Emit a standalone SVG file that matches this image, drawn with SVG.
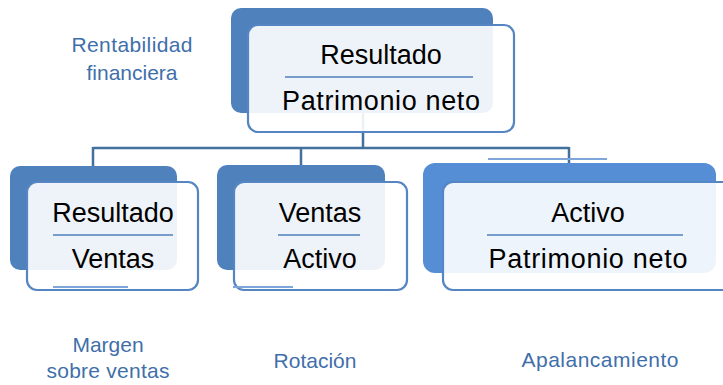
<svg xmlns="http://www.w3.org/2000/svg" width="723" height="385" viewBox="0 0 723 385">
<defs>
<style>
.back{fill:#4F81BD;}
.backR{fill:#558ED5;}
.front{fill:#FFFFFF;fill-opacity:0.9;stroke:#5585C2;stroke-width:2.2;}
.div{stroke:#4F81BD;stroke-width:1.5;}
.art{stroke:#7FA6D8;stroke-width:2;}
.t{font-family:"Liberation Sans",Arial,sans-serif;font-size:27px;fill:#000;text-anchor:middle;}
.lbl{font-family:"Liberation Sans",Arial,sans-serif;font-size:21px;fill:#3F6FAA;text-anchor:middle;}
.conn{fill:none;stroke:#41719C;stroke-width:2.5;}
</style>
</defs>
<rect width="723" height="385" fill="#FFFFFF"/>
<g id="connectors">
<path class="conn" d="M363,113 V148 M93,148 H569 M93,147 V166 M301,148 V165 M569,147 V163"/>
</g>
<g id="node-top">
<rect class="back" x="231" y="8" width="262" height="105" rx="10"/>
<rect class="front" x="248" y="25" width="266" height="107" rx="10"/>
<text class="t" x="381" y="64">Resultado</text>
<line class="div" x1="285" y1="77" x2="473" y2="77"/>
<text class="t" x="381" y="110" textLength="198">Patrimonio neto</text>
</g>
<g id="node-left">
<rect class="back" x="10" y="166" width="167" height="104" rx="10"/>
<rect class="front" x="27" y="182" width="171" height="108" rx="10"/>
<text class="t" x="113" y="222">Resultado</text>
<line class="div" x1="53" y1="235" x2="173" y2="235"/>
<text class="t" x="113" y="268">Ventas</text>
<line class="art" x1="53" y1="287" x2="128" y2="287"/>
</g>
<g id="node-mid">
<rect class="back" x="217" y="165" width="168" height="105" rx="10"/>
<rect class="front" x="234" y="182" width="173" height="108" rx="10"/>
<text class="t" x="320" y="222">Ventas</text>
<line class="div" x1="278" y1="235" x2="360" y2="235"/>
<text class="t" x="320" y="268">Activo</text>
<line class="art" x1="233" y1="287" x2="293" y2="287"/>
</g>
<g id="node-right">
<line class="art" x1="488" y1="159" x2="607" y2="159"/>
<rect class="backR" x="423" y="163" width="293" height="110" rx="12"/>
<rect class="front" x="443" y="182" width="300" height="108" rx="10"/>
<text class="t" x="588" y="222">Activo</text>
<line class="div" x1="487" y1="235" x2="683" y2="235"/>
<text class="t" x="588" y="268" textLength="199">Patrimonio neto</text>
</g>
<g id="labels">
<text class="lbl" x="132" y="52" textLength="121">Rentabilidad</text>
<text class="lbl" x="132" y="80">financiera</text>
<text class="lbl" x="108" y="352">Margen</text>
<text class="lbl" x="108" y="378" textLength="123">sobre ventas</text>
<text class="lbl" x="315" y="368">Rotación</text>
<text class="lbl" x="600" y="367" textLength="157">Apalancamiento</text>
</g>
</svg>
